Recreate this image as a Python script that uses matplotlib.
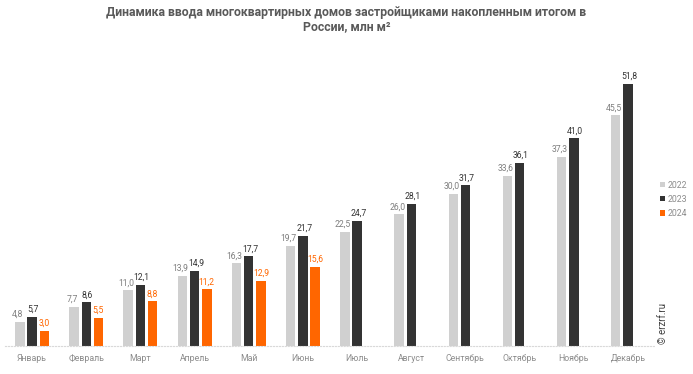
import matplotlib.pyplot as plt
import numpy as np

plt.rcParams['font.family'] = ['Roboto', 'DejaVu Sans']

months = ['Январь', 'Февраль', 'Март', 'Апрель', 'Май', 'Июнь',
          'Июль', 'Август', 'Сентябрь', 'Октябрь', 'Ноябрь', 'Декабрь']
v2022 = [4.8, 7.7, 11.0, 13.9, 16.3, 19.7, 22.5, 26.0, 30.0, 33.6, 37.3, 45.5]
v2023 = [5.7, 8.6, 12.1, 14.9, 17.7, 21.7, 24.7, 28.1, 31.7, 36.1, 41.0, 51.8]
v2024 = [3.0, 5.5, 8.8, 11.2, 12.9, 15.6]

years = ['2022', '2023', '2024']
colors = ['#d0d0d0', '#333333', '#ff6600']
label_colors = ['#7f7f7f', '#333333', '#ff6600']

fig = plt.figure(figsize=(6.93, 3.74), dpi=100)
ax = fig.add_axes([0.0072, 0.0749, 0.938, 0.745])

x = np.arange(len(months))
w = 0.175
off = 0.225
nudge = [-0.035, 0.025, 0.0]
series = [v2022, v2023, v2024]
for i, vals in enumerate(series):
    xs = x[:len(vals)] + (i - 1) * off
    ax.bar(xs, vals, width=w, color=colors[i], label=years[i], zorder=2)
    for xx, v in zip(xs, vals):
        ax.text(xx + nudge[i], v + 0.6, f'{v:.1f}'.replace('.', ','), ha='center', va='bottom',
                fontsize=6.2, color=label_colors[i])

ax.set_xlim(-0.5, 11.5)
ax.set_ylim(0, 55)
ax.set_xticks(x)
ax.set_xticklabels(months, fontsize=6.3, color='#8c8c8c')
ax.tick_params(axis='x', length=0, pad=6)
ax.set_yticks([])
for s in ['top', 'right', 'left']:
    ax.spines[s].set_visible(False)
ax.spines['bottom'].set_color('#d9d9d9')
ax.spines['bottom'].set_linestyle(':')
ax.spines['bottom'].set_linewidth(0.8)

leg = fig.legend(loc='center left', bbox_to_anchor=(0.952, 0.467), frameon=False,
                 fontsize=6.3, handlelength=0.55, handleheight=0.55, handletextpad=0.3,
                 labelspacing=0.6, labelcolor='#8c8c8c', borderpad=0, borderaxespad=0)

fig.text(0.5, 0.985, 'Динамика ввода многоквартирных домов застройщиками накопленным итогом в\nРоссии, млн м²',
         ha='center', va='top', fontsize=8.8, fontweight='bold', color='#595959', linespacing=1.1)

fig.text(0.957, 0.08, '© erzrf.ru', rotation=90, ha='center', va='bottom',
         fontsize=7, color='#404040')

fig.savefig('out.png', dpi=100)
